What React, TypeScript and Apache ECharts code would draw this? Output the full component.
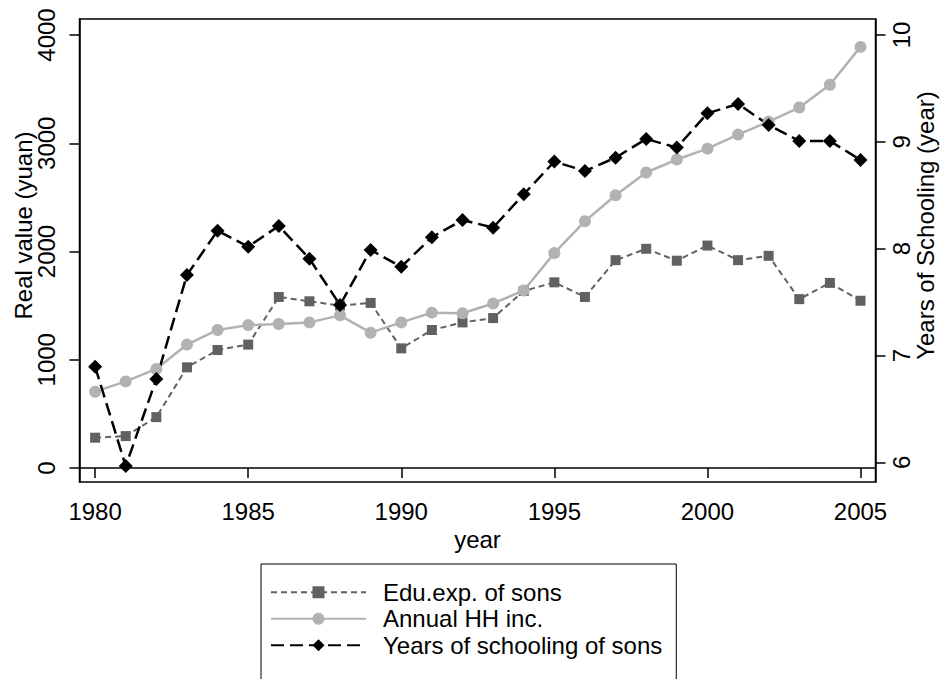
import React, { useEffect, useRef } from "react";
import * as echarts from "echarts";

const years = [1980, 1981, 1982, 1983, 1984, 1985, 1986, 1987, 1988, 1989, 1990, 1991, 1992, 1993, 1994, 1995, 1996, 1997, 1998, 1999, 2000, 2001, 2002, 2003, 2004, 2005];
const eduExpSons = [280, 295, 470, 930, 1090, 1140, 1580, 1540, 1500, 1525, 1105, 1275, 1345, 1385, 1635, 1715, 1580, 1920, 2025, 1915, 2055, 1920, 1960, 1560, 1710, 1545];
const annualHHInc = [705, 800, 915, 1140, 1275, 1320, 1330, 1345, 1410, 1250, 1345, 1435, 1430, 1520, 1640, 1985, 2280, 2520, 2730, 2850, 2950, 3080, 3200, 3330, 3540, 3890];
const yearsSchooling = [6.895, 5.965, 6.78, 7.754, 8.168, 8.019, 8.213, 7.906, 7.473, 7.988, 7.831, 8.107, 8.269, 8.197, 8.509, 8.815, 8.728, 8.852, 9.027, 8.946, 9.268, 9.355, 9.158, 9.008, 9.008, 8.831];

const xTicks = [1980, 1985, 1990, 1995, 2000, 2005];
const leftTicks = [0, 1000, 2000, 3000, 4000];
const rightTicks = [6, 7, 8, 9, 10];

const FONT = "Liberation Sans, Arial, sans-serif";
const plain = (v: number) => String(v);

export default function App() {
  const ref = useRef<HTMLDivElement>(null);
  useEffect(() => {
    if (!ref.current) return;
    const chart = echarts.init(ref.current, undefined, { renderer: "svg" });
    const axisLineStyle = { color: "#000", width: 1.5 };
    chart.setOption({
      animation: false,
      backgroundColor: "#fff",
      textStyle: { fontFamily: FONT, color: "#000" },
      grid: {
        left: 79.5,
        right: 71.5,
        top: 19,
        bottom: 197,
        show: true,
        borderColor: "#000",
        borderWidth: 1.5,
        containLabel: false,
        outerBoundsMode: "none",
      },
      legend: {
        orient: "vertical",
        left: 261,
        top: 564,
        height: 200,
        padding: [15, 14, 40, 9],
        borderColor: "#000",
        borderWidth: 1,
        itemWidth: 95,
        itemHeight: 15,
        itemGap: 0,
        textStyle: {
          fontFamily: FONT,
          fontSize: 24,
          color: "#000",
          lineHeight: 26.5,
          padding: [0, 0, 0, 12],
        },
        data: ["Edu.exp. of sons", "Annual HH inc.", "Years of schooling of sons"],
      },
      xAxis: {
        type: "value",
        min: 1979.49,
        max: 2005.49,
        name: "year",
        nameLocation: "middle",
        nameGap: 45,
        nameMoveOverlap: false,
        nameTextStyle: { fontFamily: FONT, fontSize: 24, color: "#000" },
        splitLine: { show: false },
        axisLine: { show: true, lineStyle: axisLineStyle },
        axisTick: { show: true, length: 10, lineStyle: axisLineStyle, customValues: xTicks },
        axisLabel: { fontFamily: FONT, fontSize: 24, color: "#000", margin: 17, customValues: xTicks, formatter: plain },
      },
      yAxis: [
        {
          type: "value",
          position: "left",
          min: -129.3,
          max: 4147.8,
          name: "Real value (yuan)",
          nameLocation: "middle",
          nameRotate: 90,
          nameGap: 44,
          nameMoveOverlap: false,
          nameTextStyle: { fontFamily: FONT, fontSize: 24, color: "#000", padding: [0, 0, 0, 50] },
          splitLine: { show: false },
          axisLine: { show: true, lineStyle: axisLineStyle },
          axisTick: { show: true, length: 10, lineStyle: axisLineStyle, customValues: leftTicks },
          axisLabel: { rotate: 90, fontFamily: FONT, fontSize: 24, color: "#000", margin: 21, customValues: leftTicks, formatter: plain },
        },
        {
          type: "value",
          position: "right",
          min: 5.816,
          max: 10.15,
          name: "Years of Schooling (year)",
          nameLocation: "middle",
          nameRotate: 90,
          nameGap: 38,
          nameMoveOverlap: false,
          nameTextStyle: { fontFamily: FONT, fontSize: 24, color: "#000", padding: [0, 0, 0, 50] },
          splitLine: { show: false },
          axisLine: { show: true, lineStyle: axisLineStyle },
          axisTick: { show: true, length: 10, lineStyle: axisLineStyle, customValues: rightTicks },
          axisLabel: { rotate: 90, fontFamily: FONT, fontSize: 24, color: "#000", margin: 14, customValues: rightTicks, formatter: plain },
        },
      ],
      series: [
        {
          name: "Edu.exp. of sons",
          type: "line",
          yAxisIndex: 0,
          data: years.map((y, i) => [y, eduExpSons[i]]),
          symbol: "rect",
          symbolSize: 10,
          itemStyle: { color: "#616161" },
          lineStyle: { color: "#616161", width: 2, type: [6, 4] },
        },
        {
          name: "Annual HH inc.",
          type: "line",
          yAxisIndex: 0,
          data: years.map((y, i) => [y, annualHHInc[i]]),
          symbol: "circle",
          symbolSize: 12,
          itemStyle: { color: "#b2b2b2" },
          lineStyle: { color: "#b2b2b2", width: 2.5, type: "solid" },
        },
        {
          name: "Years of schooling of sons",
          type: "line",
          yAxisIndex: 1,
          data: years.map((y, i) => [y, yearsSchooling[i]]),
          symbol: "diamond",
          symbolSize: 14,
          itemStyle: { color: "#000" },
          lineStyle: { color: "#000", width: 2.5, type: [13, 6] },
        },
      ],
    });
    return () => chart.dispose();
  }, []);
  return (
    <div
      ref={ref}
      style={{ position: "fixed", left: 0, top: 0, width: 947, height: 679, background: "#fff" }}
    />
  );
}
